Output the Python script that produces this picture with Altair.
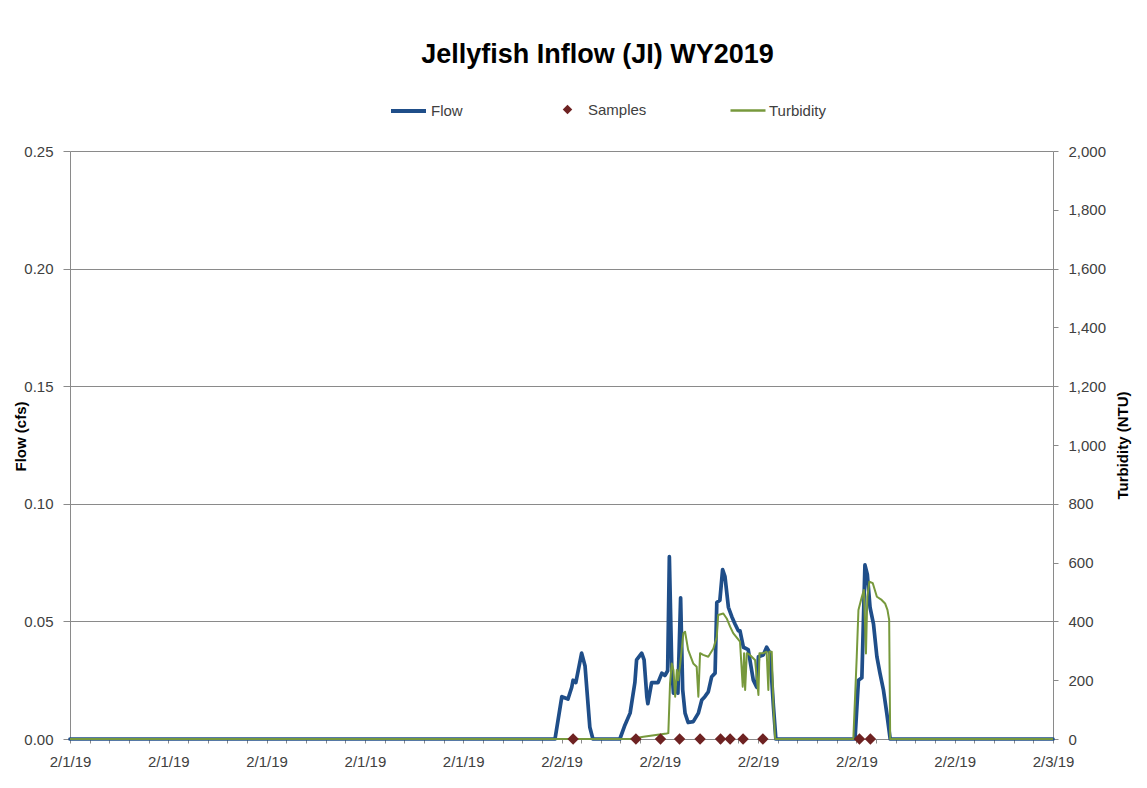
import datetime as dt
import altair as alt
import pandas as pd

TITLE = "Jellyfish Inflow (JI) WY2019"
FONT = "Liberation Sans"

# ---- Flow (cfs) ----
flow_time = [
    "2019-02-01T00:00", "2019-02-01T23:41", "2019-02-02T00:01", "2019-02-02T00:19",
    "2019-02-02T00:30", "2019-02-02T00:34", "2019-02-02T00:42", "2019-02-02T00:59",
    "2019-02-02T01:09", "2019-02-02T01:23", "2019-02-02T01:32", "2019-02-02T02:51",
    "2019-02-02T03:06", "2019-02-02T03:21", "2019-02-02T03:35", "2019-02-02T03:40",
    "2019-02-02T03:55", "2019-02-02T04:02", "2019-02-02T04:10", "2019-02-02T04:13",
    "2019-02-02T04:24", "2019-02-02T04:34", "2019-02-02T04:43", "2019-02-02T04:54",
    "2019-02-02T05:03", "2019-02-02T05:11", "2019-02-02T05:16", "2019-02-02T05:23",
    "2019-02-02T05:28", "2019-02-02T05:38", "2019-02-02T05:41", "2019-02-02T05:49",
    "2019-02-02T05:55", "2019-02-02T06:02", "2019-02-02T06:11", "2019-02-02T06:26",
    "2019-02-02T06:41", "2019-02-02T06:51", "2019-02-02T07:00", "2019-02-02T07:10",
    "2019-02-02T07:20", "2019-02-02T07:30", "2019-02-02T07:35", "2019-02-02T07:44",
    "2019-02-02T07:52", "2019-02-02T07:59", "2019-02-02T08:09", "2019-02-02T08:19",
    "2019-02-02T08:28", "2019-02-02T08:38", "2019-02-02T08:43", "2019-02-02T08:53",
    "2019-02-02T09:07", "2019-02-02T09:22", "2019-02-02T09:32", "2019-02-02T09:37",
    "2019-02-02T09:51", "2019-02-02T10:01", "2019-02-02T10:11", "2019-02-02T10:21",
    "2019-02-02T10:28", "2019-02-02T14:20", "2019-02-02T14:30", "2019-02-02T14:40",
    "2019-02-02T14:49", "2019-02-02T14:56", "2019-02-02T15:04", "2019-02-02T15:14",
    "2019-02-02T15:24", "2019-02-02T15:33", "2019-02-02T15:43", "2019-02-02T15:53",
    "2019-02-02T16:03", "2019-02-03T00:00",
]
flow_cfs = [
    0.0, 0.0, 0.018, 0.017,
    0.022, 0.025, 0.024, 0.0365,
    0.031, 0.005, 0.0, 0.0,
    0.006, 0.011, 0.024, 0.0336,
    0.0365, 0.0336, 0.018, 0.015,
    0.024, 0.024, 0.024, 0.028,
    0.027, 0.029, 0.0775, 0.0306,
    0.0195, 0.022, 0.0195, 0.060,
    0.021, 0.011, 0.007, 0.0074,
    0.011, 0.0166, 0.018, 0.020,
    0.0265, 0.028, 0.058, 0.059,
    0.072, 0.069, 0.056, 0.052,
    0.049, 0.046, 0.046, 0.039,
    0.038, 0.025, 0.022, 0.035,
    0.0357, 0.039, 0.0365, 0.0137,
    0.0, 0.0, 0.025, 0.026,
    0.074, 0.070, 0.056, 0.049,
    0.035, 0.028, 0.021, 0.011,
    0.0, 0.0,
]

# ---- Turbidity (NTU) ----
turb_time = [
    "2019-02-01T00:00", "2019-02-02T03:21", "2019-02-02T04:00", "2019-02-02T05:08",
    "2019-02-02T05:13", "2019-02-02T05:18", "2019-02-02T05:23", "2019-02-02T05:28",
    "2019-02-02T05:33", "2019-02-02T05:38", "2019-02-02T05:42", "2019-02-02T05:47",
    "2019-02-02T05:57", "2019-02-02T06:02", "2019-02-02T06:11", "2019-02-02T06:26",
    "2019-02-02T06:36", "2019-02-02T06:41", "2019-02-02T06:46", "2019-02-02T06:55",
    "2019-02-02T07:10", "2019-02-02T07:25", "2019-02-02T07:35", "2019-02-02T07:39",
    "2019-02-02T07:54", "2019-02-02T08:04", "2019-02-02T08:14", "2019-02-02T08:23",
    "2019-02-02T08:43", "2019-02-02T08:51", "2019-02-02T08:55", "2019-02-02T08:58",
    "2019-02-02T09:03", "2019-02-02T09:12", "2019-02-02T09:27", "2019-02-02T09:37",
    "2019-02-02T09:40", "2019-02-02T09:51", "2019-02-02T10:01", "2019-02-02T10:06",
    "2019-02-02T10:09", "2019-02-02T10:16", "2019-02-02T10:21", "2019-02-02T10:26",
    "2019-02-02T14:15", "2019-02-02T14:25", "2019-02-02T14:30", "2019-02-02T14:40",
    "2019-02-02T14:46", "2019-02-02T14:52", "2019-02-02T14:56", "2019-02-02T15:02",
    "2019-02-02T15:12", "2019-02-02T15:24", "2019-02-02T15:38", "2019-02-02T15:48",
    "2019-02-02T15:55", "2019-02-02T16:00", "2019-02-02T16:03", "2019-02-03T00:00",
]
turb_ntu = [
    0, 0, 8, 19,
    20, 189, 257, 235,
    144, 235, 200, 246,
    360, 365, 303, 257,
    246, 144, 292, 286,
    280, 308, 348, 422,
    427, 410, 382, 360,
    331, 178, 292, 167,
    292, 286, 269, 150,
    292, 292, 297, 167,
    297, 297, 110, 0,
    0, 280, 439, 484,
    507, 291, 484, 535,
    530, 484, 473, 461,
    439, 405, 0, 0,
]

# ---- Samples ----
sample_time = [
    "2019-02-02T00:34", "2019-02-02T03:38", "2019-02-02T04:50", "2019-02-02T05:46",
    "2019-02-02T06:46", "2019-02-02T07:46", "2019-02-02T08:14", "2019-02-02T08:52",
    "2019-02-02T09:50", "2019-02-02T14:33", "2019-02-02T15:05",
]
sample_flow = [0.0, 0.0, 0.0, 0.0, 0.0, 0.0, 0.0, 0.0, 0.0, 0.0, 0.0]

flow_ticks = [0.0, 0.05, 0.10, 0.15, 0.20, 0.25]
turb_ticks = [0, 200, 400, 600, 800, 1000, 1200, 1400, 1600, 1800, 2000]

FLOW_COLOR = "#1F4E89"
TURB_COLOR = "#77993C"
SAMPLE_COLOR = "#6E2222"
GRID = "#8A8A8A"

flow_df = pd.DataFrame({"time": flow_time, "flow": flow_cfs, "series": "Flow"})
turb_df = pd.DataFrame({"time": turb_time, "turbidity": turb_ntu, "series": "Turbidity"})
samp_df = pd.DataFrame({"time": sample_time, "flow": sample_flow, "series": "Samples"})

# x ticks every 0.04 day (major label every 0.2 day)
start = dt.datetime(2019, 2, 1)
tick_vals = []
for i in range(51):
    t = start + dt.timedelta(seconds=i * 3456)
    tick_vals.append(alt.DateTime(year=t.year, month=t.month, date=t.day,
                                  hours=t.hour, minutes=t.minute, seconds=t.second))

x_enc = alt.X(
    "time:T",
    scale=alt.Scale(domain=[alt.DateTime(year=2019, month=2, date=1),
                            alt.DateTime(year=2019, month=2, date=3)], nice=False),
    axis=alt.Axis(
        title=None, values=tick_vals, grid=False, tickSize=4, labelPadding=11,
        labelFlush=False, labelOverlap=False,
        labelExpr="(hours(datum.value)*3600 + minutes(datum.value)*60 + seconds(datum.value)) % 17280 === 0 ? timeFormat(datum.value, '%-m/%-d/%y') : ''",
    ),
)

flow_y = alt.Y(
    "flow:Q",
    scale=alt.Scale(domain=[0, 0.25], nice=False),
    axis=alt.Axis(title="Flow (cfs)", values=flow_ticks, format=".2f", grid=True,
                  tickSize=7, labelPadding=10, titleAngle=270, titleBaseline="middle",
                  titleX=-50, titleY=285),
)

flow_line = alt.Chart(flow_df).mark_line(
    strokeWidth=3.7, strokeJoin="round", strokeCap="round"
).encode(
    x=x_enc,
    y=flow_y,
    color=alt.Color("series:N", scale=alt.Scale(domain=["Flow"], range=[FLOW_COLOR]),
                    legend=alt.Legend(title=None, orient="none", legendX=319, legendY=-59.5,
                                      symbolType="stroke", symbolSize=1225,
                                      symbolStrokeWidth=4, labelOffset=3)),
)

turb_line = alt.Chart(turb_df).mark_line(
    strokeWidth=2, strokeJoin="round"
).encode(
    x=x_enc,
    y=alt.Y("turbidity:Q", scale=alt.Scale(domain=[0, 2000], nice=False),
            axis=alt.Axis(title="Turbidity (NTU)", orient="right", values=turb_ticks,
                          format=",.0f", grid=False, tickSize=5, labelPadding=10,
                          titleAngle=270, titleBaseline="middle", titleX=69, titleY=294)),
    color=alt.Color("series:N", scale=alt.Scale(domain=["Turbidity"], range=[TURB_COLOR]),
                    legend=alt.Legend(title=None, orient="none", legendX=659, legendY=-59.5,
                                      symbolType="stroke", symbolSize=1225,
                                      symbolStrokeWidth=2.5, labelOffset=2)),
)

samp_pts = alt.Chart(samp_df).mark_point(
    shape="diamond", filled=True, size=130, opacity=1
).encode(
    x=x_enc,
    y=alt.Y("flow:Q", scale=alt.Scale(domain=[0, 0.25], nice=False), axis=None),
    color=alt.Color("series:N", scale=alt.Scale(domain=["Samples"], range=[SAMPLE_COLOR]),
                    legend=alt.Legend(title=None, orient="none", legendX=490, legendY=-49,
                                      symbolType="diamond", symbolSize=90,
                                      symbolOpacity=1, labelOffset=13)),
)

chart = alt.layer(flow_line, turb_line, samp_pts).resolve_scale(
    y="independent", color="independent"
).resolve_legend(
    color="independent"
).properties(
    width=983,
    height=588,
    padding={"left": 62, "top": 143, "right": 85, "bottom": 40},
    autosize=alt.AutoSizeParams(type="none"),
    title=alt.TitleParams(TITLE, anchor="middle", dx=36, offset=23),
).configure_view(
    stroke=None
).configure_axis(
    labelFont=FONT, labelFontSize=15, labelColor="#404040",
    titleFont=FONT, titleFontSize=15, titleFontWeight="bold", titleColor="#000000",
    domainColor=GRID, tickColor=GRID, gridColor=GRID, gridWidth=1, domainWidth=1,
).configure_legend(
    labelFont=FONT, labelFontSize=15, labelColor="#404040", padding=0,
).configure_title(
    font=FONT, fontSize=27, fontWeight="bold", color="#000000",
)

chart.save("out.html", embed_options={"renderer": "svg", "actions": False})
